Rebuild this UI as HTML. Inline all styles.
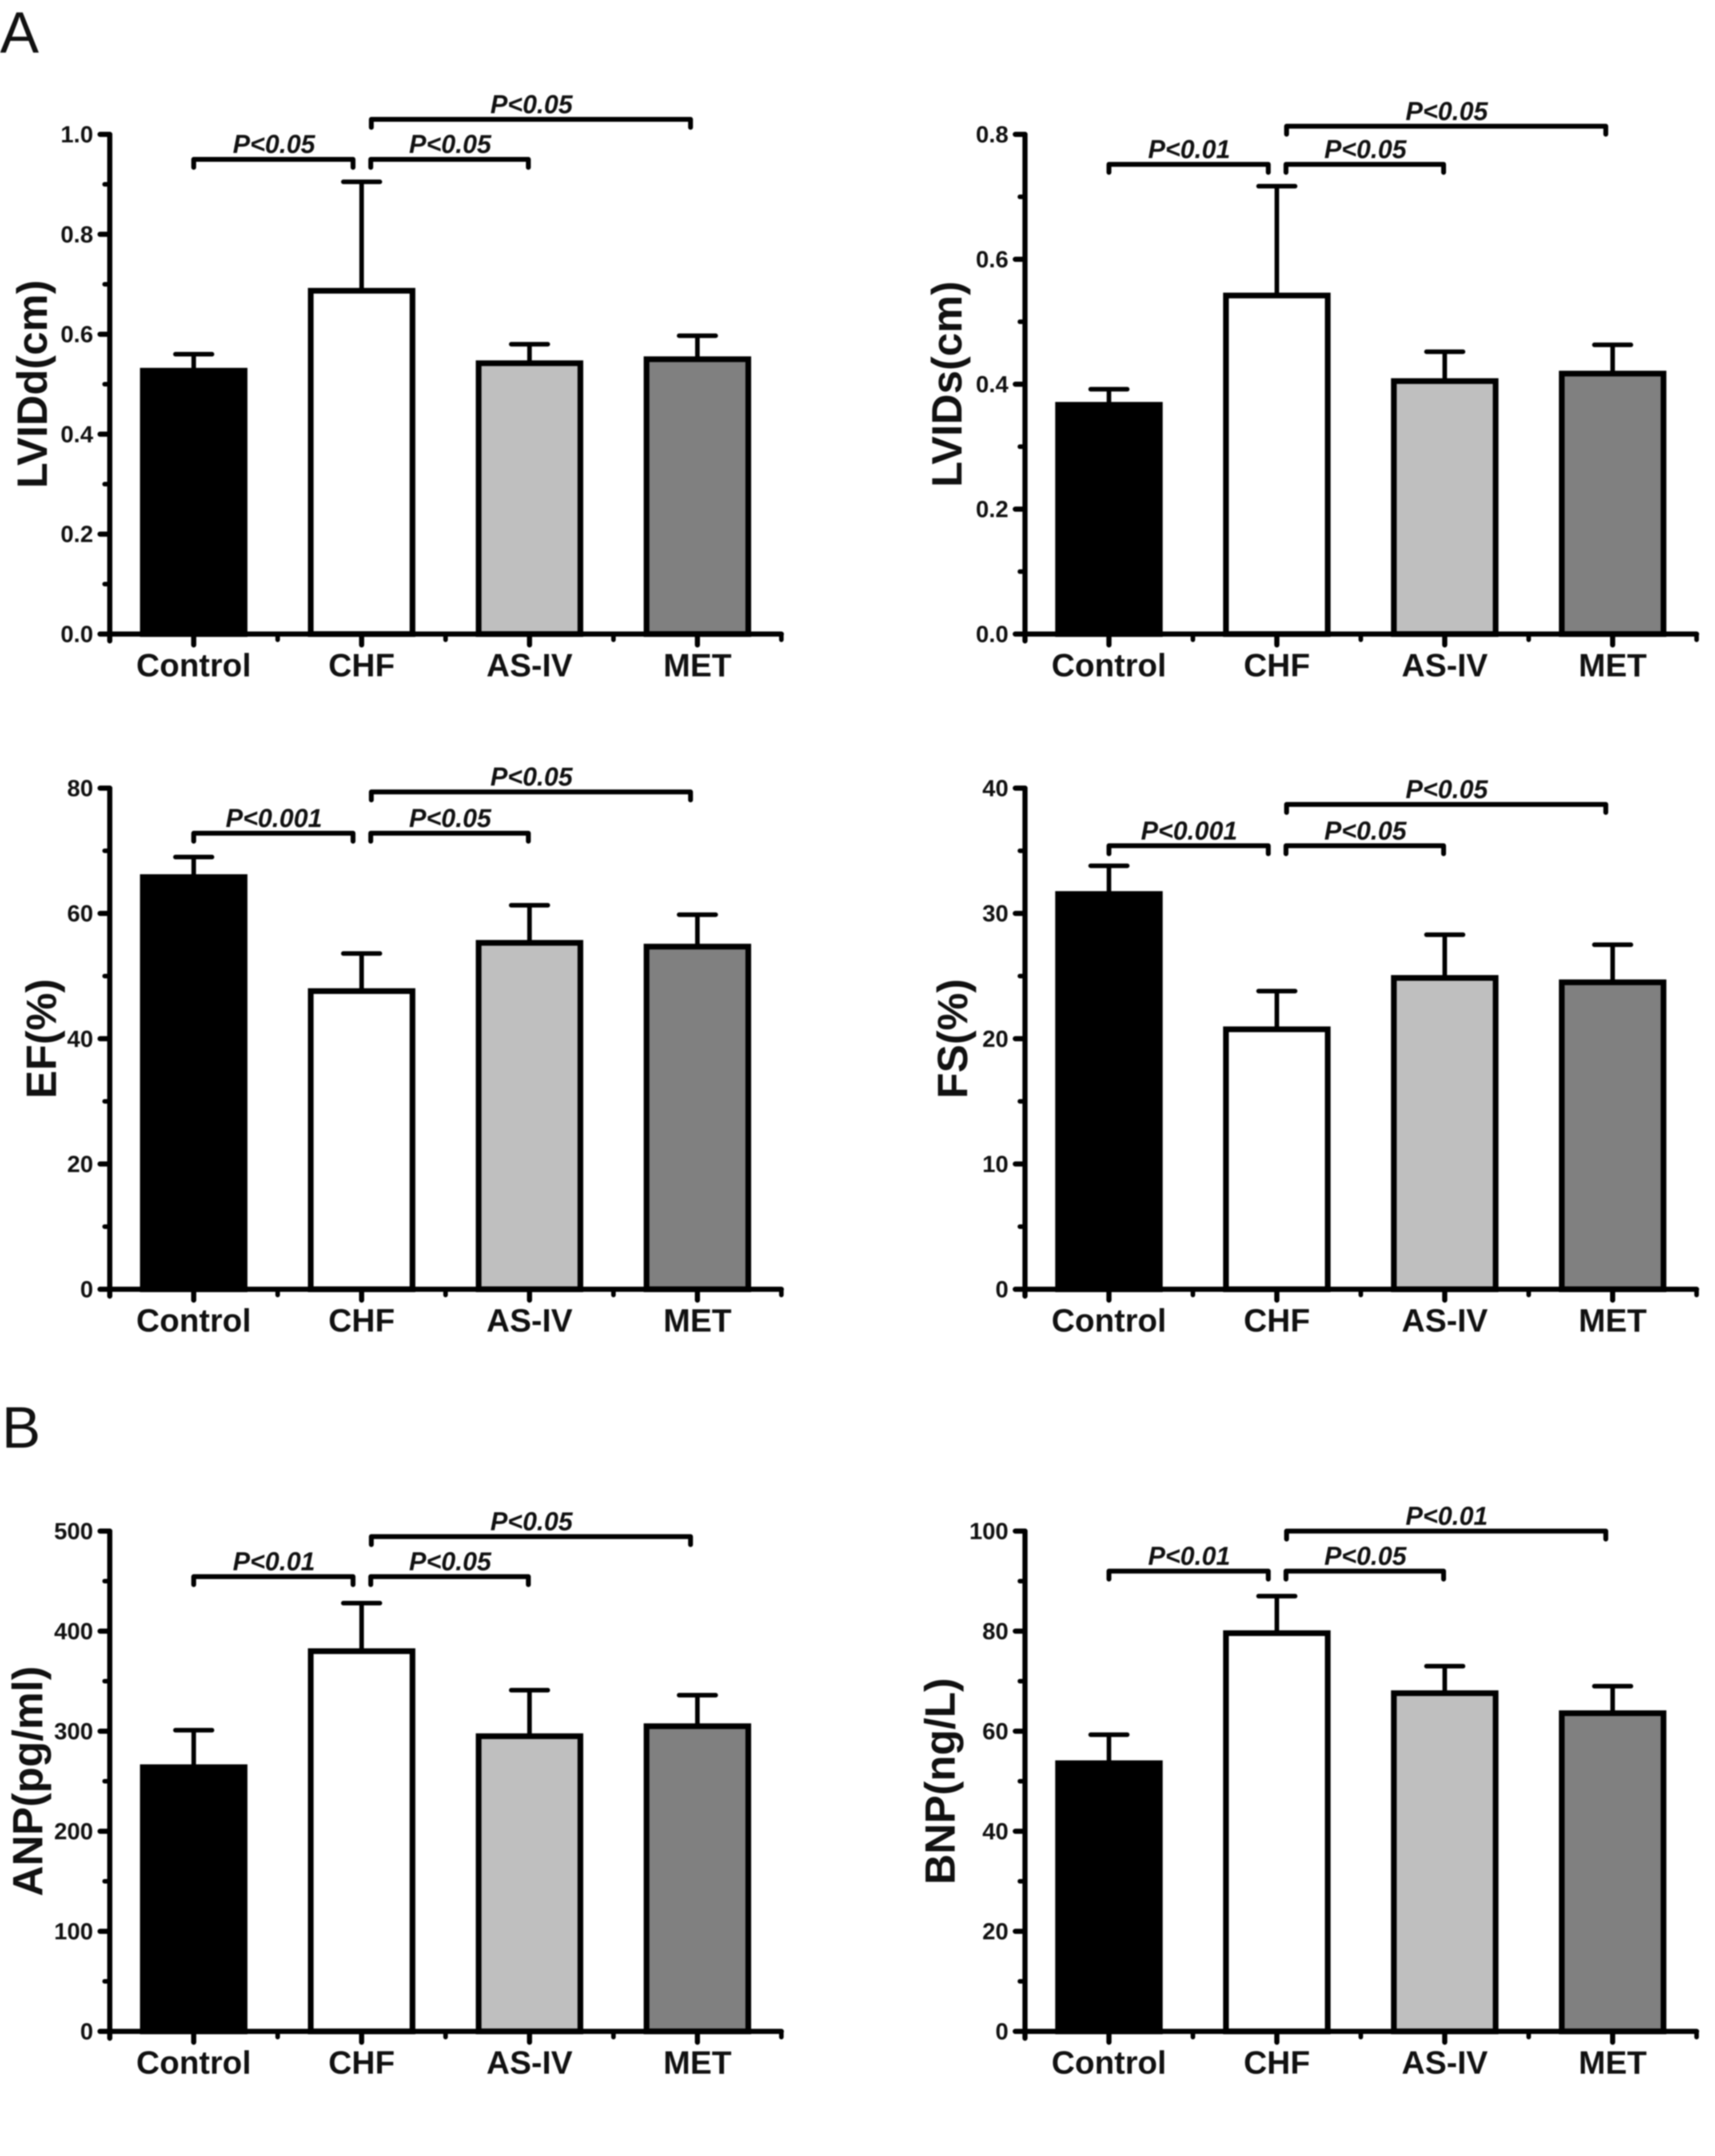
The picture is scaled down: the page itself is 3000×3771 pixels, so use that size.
<!DOCTYPE html>
<html lang="en">
<head>
<meta charset="utf-8">
<title>Cardiac function and natriuretic peptide bar charts</title>
<style>
html,body{margin:0;padding:0;background:#fff;}
svg{display:block;filter:blur(1px);}
text{font-family:"Liberation Sans",sans-serif;fill:#111;}
</style>
</head>
<body>
<svg id="figure" width="3000" height="3771" viewBox="0 0 3000 3771" xmlns="http://www.w3.org/2000/svg">
  <rect x="0" y="0" width="3000" height="3771" fill="#ffffff"/>
  <text x="0" y="92" font-size="102">A</text>
  <text x="3" y="2532" font-size="102">B</text>
</svg>
<script>
const categories = ['Control', 'CHF', 'AS-IV', 'MET'];

const lviddTicks = ['0.0', '0.2', '0.4', '0.6', '0.8', '1.0'];
const lviddMeans = [0.527, 0.687, 0.542, 0.55];
const lviddErrorTops = [0.56, 0.905, 0.58, 0.597];
const lviddBracketLevels = [0.95, 0.95, 1.03];
const lviddBracketLabels = ['P<0.05', 'P<0.05', 'P<0.05'];

const lvidsTicks = ['0.0', '0.2', '0.4', '0.6', '0.8'];
const lvidsMeans = [0.367, 0.542, 0.405, 0.417];
const lvidsErrorTops = [0.392, 0.717, 0.452, 0.463];
const lvidsBracketLevels = [0.752, 0.752, 0.813];
const lvidsBracketLabels = ['P<0.01', 'P<0.05', 'P<0.05'];

const efTicks = ['0', '20', '40', '60', '80'];
const efMeans = [65.8, 47.6, 55.3, 54.7];
const efErrorTops = [69, 53.6, 61.3, 59.8];
const efBracketLevels = [72.8, 72.8, 79.4];
const efBracketLabels = ['P<0.001', 'P<0.05', 'P<0.05'];

const fsTicks = ['0', '10', '20', '30', '40'];
const fsMeans = [31.55, 20.75, 24.85, 24.5];
const fsErrorTops = [33.8, 23.8, 28.3, 27.5];
const fsBracketLevels = [35.4, 35.4, 38.7];
const fsBracketLabels = ['P<0.001', 'P<0.05', 'P<0.05'];

const anpTicks = ['0', '100', '200', '300', '400', '500'];
const anpMeans = [264, 380, 295, 305];
const anpErrorTops = [301, 428, 341, 336];
const anpBracketLevels = [454.5, 454.5, 494.5];
const anpBracketLabels = ['P<0.01', 'P<0.05', 'P<0.05'];

const bnpTicks = ['0', '20', '40', '60', '80', '100'];
const bnpMeans = [53.6, 79.6, 67.6, 63.6];
const bnpErrorTops = [59.3, 87, 73, 69];
const bnpBracketLevels = [92, 92, 100];
const bnpBracketLabels = ['P<0.01', 'P<0.05', 'P<0.01'];

const barFills = ['#000000', '#ffffff', '#bfbfbf', '#808080'];

const svg = document.getElementById('figure');
const NS = 'http://www.w3.org/2000/svg';

function shape(parent, tag, attrs, content) {
  const el = document.createElementNS(NS, tag);
  for (const k in attrs) el.setAttribute(k, attrs[k]);
  if (content !== undefined) el.textContent = content;
  parent.appendChild(el);
  return el;
}

function drawPanel(key, title, titleX, left, top, bottom, ticks, means, errorTops, levels, labels) {
  const group = shape(svg, 'g', {});
  
  

  const maxValue = parseFloat(ticks[ticks.length - 1]);
  const yScale = function (v) { return bottom - (v / maxValue) * (bottom - top); };
  const band = 293.7;
  const xBand = function (i) { return left + band * (i + 0.5); };

  // bars
  means.forEach(function (v, i) {
    const bar = shape(group, 'rect', {
      x: xBand(i) - 89, y: yScale(v), width: 178, height: bottom - yScale(v),
      fill: barFills[i], stroke: '#000', 'stroke-width': 10
    });
    
    
  });

  // error bars
  errorTops.forEach(function (v, i) {
    const cx = xBand(i);
    const d = 'M' + cx + ' ' + yScale(means[i]) + 'V' + yScale(v) + 'M' + (cx - 32) + ' ' + yScale(v) + 'H' + (cx + 32);
    const err = shape(group, 'path', { d: d, fill: 'none', stroke: '#000', 'stroke-width': 8, 'stroke-linecap': 'round' });
    
    
  });

  // y axis
  const yAxis = shape(group, 'line', { x1: left, y1: top, x2: left, y2: bottom + 12, stroke: '#000', 'stroke-width': 9, 'stroke-linecap': 'round' });
  
  

  ticks.forEach(function (t, i) {
    const v = parseFloat(t);
    const tick = shape(group, 'line', { x1: left - 17, y1: yScale(v), x2: left, y2: yScale(v), stroke: '#000', 'stroke-width': 9, 'stroke-linecap': 'round' });
    
    
    const label = shape(group, 'text', { x: left - 29, y: yScale(v) + 14, 'text-anchor': 'end', 'font-size': 41, 'font-weight': 'bold' }, t);
    
    
    if (i < ticks.length - 1) {
      const mid = (v + parseFloat(ticks[i + 1])) / 2;
      const minor = shape(group, 'line', { x1: left - 9, y1: yScale(mid), x2: left, y2: yScale(mid), stroke: '#000', 'stroke-width': 8, 'stroke-linecap': 'round' });
      
      
    }
  });

  // x axis
  const xAxis = shape(group, 'line', { x1: left - 17, y1: bottom, x2: left + band * 4, y2: bottom, stroke: '#000', 'stroke-width': 9, 'stroke-linecap': 'round' });
  
  

  categories.forEach(function (c, i) {
    const tick = shape(group, 'line', { x1: xBand(i), y1: bottom, x2: xBand(i), y2: bottom + 19, stroke: '#000', 'stroke-width': 9, 'stroke-linecap': 'round' });
    
    
    const minor = shape(group, 'line', { x1: xBand(i) + band / 2, y1: bottom, x2: xBand(i) + band / 2, y2: bottom + 10, stroke: '#000', 'stroke-width': 8, 'stroke-linecap': 'round' });
    
    
    const label = shape(group, 'text', { x: xBand(i), y: bottom + 74, 'text-anchor': 'middle', 'font-size': 56.5, 'font-weight': 'bold' }, c);
    
    
  });

  // significance brackets: [start category, start offset, end category, end offset]
  const spans = [[0, 0, 1, -15], [1, 16, 2, -2], [1, 17, 3, -12]];
  spans.forEach(function (s, i) {
    const x1 = xBand(s[0]) + s[1];
    const x2 = xBand(s[2]) + s[3];
    const y = yScale(levels[i]);
    const d = 'M' + x1 + ' ' + (y + 14) + 'V' + y + 'H' + x2 + 'V' + (y + 14);
    const bracket = shape(group, 'path', { d: d, fill: 'none', stroke: '#000', 'stroke-width': 8.5, 'stroke-linecap': 'round', 'stroke-linejoin': 'round' });
    
    
    const label = shape(group, 'text', {
      x: (x1 + x2) / 2 + 1, y: y - 11, 'text-anchor': 'middle', 'font-size': 45,
      'font-weight': 'bold', 'font-style': 'italic'
    }, labels[i]);
    
    
  });

  // y title
  const cy = (top + bottom) / 2;
  const yTitle = shape(group, 'text', {
    x: titleX, y: cy, 'text-anchor': 'middle', 'font-size': 74, 'font-weight': 'bold',
    transform: 'rotate(-90 ' + titleX + ' ' + cy + ')'
  }, title);
  
  
}

drawPanel('lvidd', 'LVIDd(cm)', 82, 192, 235, 1109, lviddTicks, lviddMeans, lviddErrorTops, lviddBracketLevels, lviddBracketLabels);
drawPanel('lvids', 'LVIDs(cm)', 1682, 1793, 235, 1109, lvidsTicks, lvidsMeans, lvidsErrorTops, lvidsBracketLevels, lvidsBracketLabels);
drawPanel('ef', 'EF(%)', 98, 192, 1378.5, 2255, efTicks, efMeans, efErrorTops, efBracketLevels, efBracketLabels);
drawPanel('fs', 'FS(%)', 1692, 1793, 1378.5, 2255, fsTicks, fsMeans, fsErrorTops, fsBracketLevels, fsBracketLabels);
drawPanel('anp', 'ANP(pg/ml)', 74, 192, 2678, 3553, anpTicks, anpMeans, anpErrorTops, anpBracketLevels, anpBracketLabels);
drawPanel('bnp', 'BNP(ng/L)', 1670, 1793, 2678, 3553, bnpTicks, bnpMeans, bnpErrorTops, bnpBracketLevels, bnpBracketLabels);
</script>
</body>
</html>
